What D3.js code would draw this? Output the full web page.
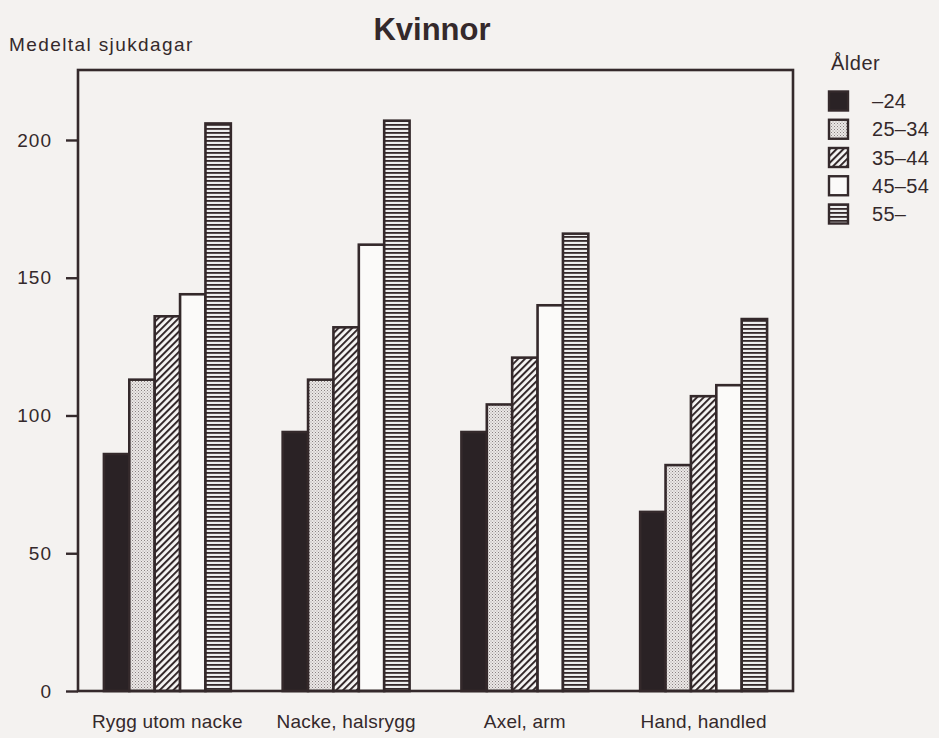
<!DOCTYPE html>
<html><head><meta charset="utf-8">
<script src="https://cdn.jsdelivr.net/npm/d3@7"></script>
<style>body{margin:0;background:#f4f2f0}svg{display:block}</style>
</head><body><svg id="c" width="939" height="738"></svg>
<script>
const categories = ["Rygg utom nacke", "Nacke, halsrygg", "Axel, arm", "Hand, handled"];
const ageGroups = ["–24", "25–34", "35–44", "45–54", "55–"];
const values24 = [86, 94, 94, 65];
const values25_34 = [113, 113, 104, 82];
const values35_44 = [136, 132, 121, 107];
const values45_54 = [144, 162, 140, 111];
const values55 = [206, 207, 166, 135];
const yTicks = [0, 50, 100, 150, 200];
const chartTitle = "Kvinnor";
const yTitle = "Medeltal sjukdagar";
const legendTitle = "Ålder";

const seriesValues = [values24, values25_34, values35_44, values45_54, values55];
const rows = [];
categories.forEach((c, ci) => ageGroups.forEach((a, ai) => rows.push({cat: c, age: a, value: seriesValues[ai][ci]})));

const ink = "#34292b";
const font = "'Liberation Sans', Arial, Helvetica, sans-serif";
const svg = d3.select("#c");
const defs = svg.append("defs");

const pBlack = "#2a2225";
const st = defs.append("pattern").attr("id", "stip").attr("patternUnits", "userSpaceOnUse").attr("width", 3).attr("height", 3);
st.append("rect").attr("width", 3).attr("height", 3).attr("fill", "#ebe8e6");
st.append("rect").attr("x", 0).attr("y", 0).attr("width", 1).attr("height", 1).attr("fill", "#8a8283");
st.append("rect").attr("x", 1.5).attr("y", 1.5).attr("width", 1).attr("height", 1).attr("fill", "#a29b9b");

const ha = defs.append("pattern").attr("id", "hatch").attr("patternUnits", "userSpaceOnUse")
  .attr("width", 4.8).attr("height", 4.8).attr("patternTransform", "rotate(45)");
ha.append("rect").attr("width", 4.8).attr("height", 4.8).attr("fill", "#f7f6f5");
ha.append("rect").attr("x", 0).attr("y", 0).attr("width", 2).attr("height", 4.8).attr("fill", ink);

const hs = defs.append("pattern").attr("id", "hstripe").attr("patternUnits", "userSpaceOnUse").attr("width", 4).attr("height", 4);
hs.append("rect").attr("width", 4).attr("height", 4).attr("fill", "#eeeeee");
hs.append("rect").attr("x", 0).attr("y", 0).attr("width", 4).attr("height", 1.8).attr("fill", ink);

const fills = d3.scaleOrdinal().domain(ageGroups).range([pBlack, "url(#stip)", "url(#hatch)", "#fbfaf9", "url(#hstripe)"]);

const mLeft = 78, mRight = 793, mTop = 70, mBottom = 691;
const x0 = d3.scaleBand().domain(categories).range([mLeft, mRight]).paddingInner(0.29).paddingOuter(0.145);
const x1 = d3.scaleBand().domain(ageGroups).range([0, x0.bandwidth()]).padding(0);
const y = d3.scaleLinear().domain([0, 225.4]).range([mBottom, mTop]);

svg.append("g").selectAll("rect").data(rows).join("rect")
  .attr("x", d => x0(d.cat) + x1(d.age))
  .attr("y", d => y(d.value))
  .attr("width", x1.bandwidth())
  .attr("height", d => y(0) - y(d.value))
  .attr("fill", d => fills(d.age))
  .attr("stroke", ink).attr("stroke-width", 2.6);

svg.append("rect").attr("x", mLeft).attr("y", mTop).attr("width", mRight - mLeft).attr("height", mBottom - mTop)
  .attr("fill", "none").attr("stroke", ink).attr("stroke-width", 2.6);

const ya = svg.append("g").attr("transform", `translate(${mLeft},0)`)
  .call(d3.axisLeft(y).tickValues(yTicks).tickSize(12).tickSizeOuter(0).tickPadding(14));
ya.select(".domain").remove();
ya.selectAll("line").attr("stroke", ink).attr("stroke-width", 2.4);
ya.selectAll("text").attr("fill", ink).style("font-family", font).style("font-size", "19px").style("letter-spacing", "1px");

svg.append("g").selectAll("text").data(categories).join("text")
  .attr("x", d => x0(d) + x0.bandwidth() / 2).attr("y", 728)
  .attr("text-anchor", "middle").attr("fill", ink)
  .style("font-family", font).style("font-size", "19px").style("letter-spacing", "0.2px").text(d => d);

svg.append("text").attr("x", 432).attr("y", 40).attr("text-anchor", "middle").attr("fill", ink)
  .style("font-family", font).style("font-size", "31px").style("font-weight", "bold").text(chartTitle);
svg.append("text").attr("x", 9).attr("y", 51).attr("fill", ink)
  .style("font-family", font).style("font-size", "19px").style("letter-spacing", "1.4px").text(yTitle);

const lg = svg.append("g");
lg.append("text").attr("x", 831).attr("y", 70).attr("fill", ink)
  .style("font-family", font).style("font-size", "20px").style("letter-spacing", "0.5px").text(legendTitle);
const ly = d3.scalePoint().domain(ageGroups).range([101, 214]);
lg.selectAll("rect").data(ageGroups).join("rect")
  .attr("x", 829).attr("y", d => ly(d) - 9.5).attr("width", 19).attr("height", 19)
  .attr("fill", d => fills(d)).attr("stroke", ink).attr("stroke-width", 2.4);
lg.selectAll("text.l").data(ageGroups).join("text").attr("class", "l")
  .attr("x", 872).attr("y", d => ly(d) + 7).attr("fill", ink)
  .style("font-family", font).style("font-size", "20px").style("letter-spacing", "0.3px").text(d => d);
</script></body></html>
